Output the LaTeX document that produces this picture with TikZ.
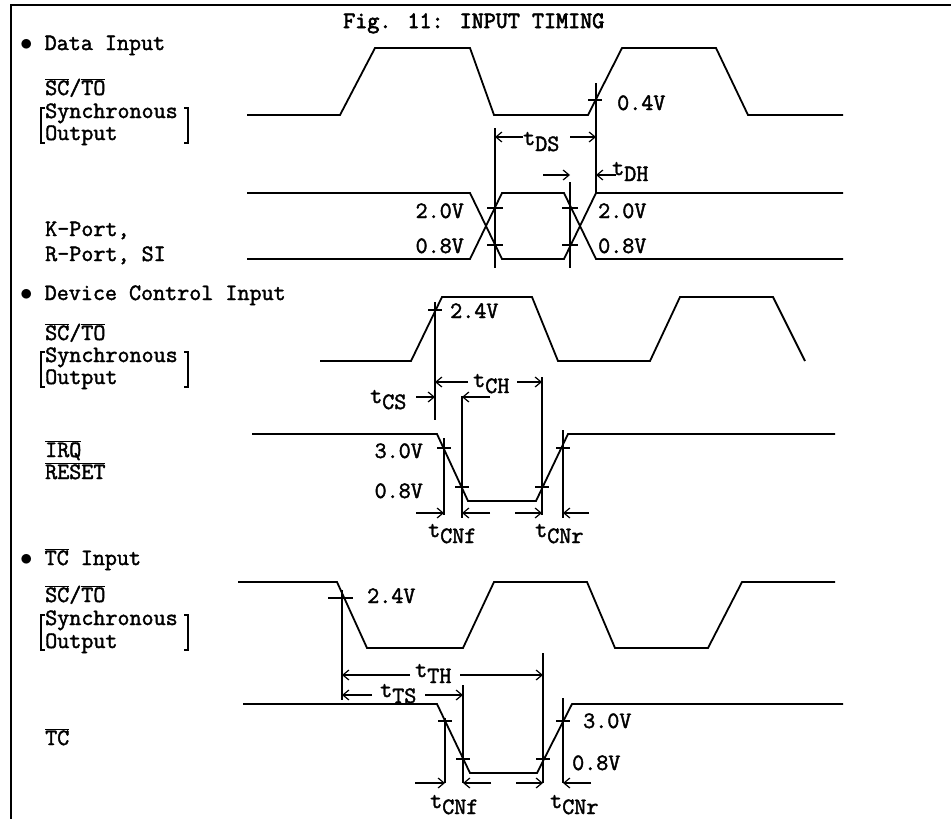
\documentclass[tikz,border=0pt]{standalone}
\usepackage{fontspec}
\newfontfamily\typew{Latin Modern Mono}[FakeBold=1.8]
\newfontfamily\typewb{Latin Modern Mono}[FakeBold=2.8]
\usepackage{tikz}
\usetikzlibrary{arrows.meta,positioning,calc}
\newcommand{\ovl}[1]{$\overline{\hbox{#1}}$}
\newcommand{\tsub}[1]{t\raisebox{-6pt}{#1}}

\begin{document}
\begin{tikzpicture}[x=1pt,y=-1pt,
  >={Straight Barb[length=6pt,width=10pt]},
  every node/.style={inner sep=0pt,font=\typew\fontsize{23.4}{24}\selectfont}]
  \tikzstyle{wave} = [line width=1.8pt,line join=miter]
  \tikzstyle{frame} = [line width=2pt]
  \tikzstyle{guide} = [line width=1.2pt]
  \tikzstyle{vtick} = [line width=1.4pt]
  \tikzstyle{dim} = [->,line width=1.2pt]
  \tikzstyle{lbl} = [anchor=base west,text depth=0pt]
  \tikzstyle{rlbl} = [anchor=base east,text depth=0pt]
  \useasboundingbox (0,0) rectangle (951,819);
  \draw[frame] (951,5) -- (11,5) -- (11,819);
  \node (title) [lbl,font=\typewb\fontsize{23.4}{24}\selectfont] at (343,28) {Fig. 11: INPUT TIMING};

  \node (d_head) [lbl] at (20,50) {$\bullet$ Data Input};
  \node (d_sc) [lbl] at (45,95) {\ovl{SC}/\ovl{TO}};
  \node (d_sync) [lbl] at (45,118) {Synchronous};
  \node (d_out) [lbl] at (45,140) {Output};
  \draw[guide] (45,108) -- (41,108) -- (41,143) -- (45,143);
  \draw[guide] (184,108) -- (188,108) -- (188,143) -- (184,143);
  \node (d_k) [lbl] at (45,236) {K-Port,};
  \node (d_r) [lbl] at (45,261) {R-Port, SI};
  \draw[wave] (247,115) -- (340,115) -- (375,48) -- (470,48) -- (494,115) -- (588,115) -- (622,48) -- (716,48) -- (748,115) -- (843,115);
  \draw[wave] (247,193) -- (470,193) -- (502,259) -- (564,259) -- (596,193) -- (843,193);
  \draw[wave] (247,259) -- (470,259) -- (502,193) -- (564,193) -- (596,259) -- (843,259);
  \draw[guide] (495,128) -- (495,268);
  \draw[guide] (570,182) -- (570,268);
  \draw[guide] (596,83) -- (596,193);
  \draw[vtick] (588,100) -- (602,100);
  \draw[vtick] (487,208) -- (503,208);
  \draw[vtick] (487,245) -- (503,245);
  \draw[vtick] (562,208) -- (578,208);
  \draw[vtick] (562,245) -- (578,245);
  \node (d_v04) [lbl] at (617,110) {0.4V};
  \node (d_v20l) [rlbl] at (464,218) {2.0V};
  \node (d_v08l) [rlbl] at (464,253) {0.8V};
  \node (d_v20r) [lbl] at (598,218) {2.0V};
  \node (d_v08r) [lbl] at (598,253) {0.8V};
  \node (d_tds) [lbl] at (523,145) {\tsub{DS}};
  \draw[dim] (523,137) -- (495,137);
  \draw[dim] (570,137) -- (596,137);
  \node (d_tdh) [lbl] at (612,175) {\tsub{DH}};
  \draw[dim] (616,175) -- (596,175);
  \draw[dim] (543,175) -- (570,175);

  \node (c_head) [lbl] at (20,300) {$\bullet$ Device Control Input};
  \node (c_sc) [lbl] at (45,340) {\ovl{SC}/\ovl{TO}};
  \node (c_sync) [lbl] at (45,362) {Synchronous};
  \node (c_out) [lbl] at (45,384) {Output};
  \draw[guide] (45,352) -- (41,352) -- (41,387) -- (45,387);
  \draw[guide] (184,352) -- (188,352) -- (188,387) -- (184,387);
  \node (c_irq) [lbl] at (45,457) {\ovl{IRQ}};
  \node (c_rst) [lbl] at (45,479) {\ovl{RESET}};
  \draw[wave] (320,361) -- (411,361) -- (442,297) -- (532,297) -- (558,361) -- (650,361) -- (680,297) -- (773,297) -- (805,361);
  \draw[wave] (252,434) -- (437,434) -- (468,501) -- (536,501) -- (568,434) -- (835,434);
  \draw[guide] (435,302) -- (435,420);
  \draw[guide] (444,438) -- (444,515);
  \draw[guide] (462,396) -- (462,518);
  \draw[guide] (542,377) -- (542,515);
  \draw[guide] (563,430) -- (563,518);
  \draw[vtick] (428,310) -- (442,310);
  \draw[vtick] (437,448) -- (451,448);
  \draw[vtick] (455,487) -- (469,487);
  \draw[vtick] (535,487) -- (549,487);
  \draw[vtick] (556,448) -- (570,448);
  \node (c_v24) [lbl] at (450,318) {2.4V};
  \node (c_v30) [rlbl] at (423,458) {3.0V};
  \node (c_v08) [rlbl] at (423,498) {0.8V};
  \node (c_tcs) [lbl] at (370,403) {\tsub{CS}};
  \draw[dim] (416,397) -- (435,397);
  \draw[dim] (490,397) -- (462,397);
  \node (c_tch) [lbl] at (473,387) {\tsub{CH}};
  \draw[dim] (468,382) -- (435,382);
  \draw[dim] (517,382) -- (542,382);
  \draw[dim] (416,513) -- (444,513);
  \draw[dim] (490,513) -- (462,513);
  \draw[dim] (515,513) -- (542,513);
  \draw[dim] (589,513) -- (563,513);
  \node (c_tcnf) [lbl] at (428,537) {\tsub{CNf}};
  \node (c_tcnr) [lbl] at (535,537) {\tsub{CNr}};

  \node (t_head) [lbl] at (20,565) {$\bullet$ \ovl{TC} Input};
  \node (t_sc) [lbl] at (45,602) {\ovl{SC}/\ovl{TO}};
  \node (t_sync) [lbl] at (45,625) {Synchronous};
  \node (t_out) [lbl] at (45,648) {Output};
  \draw[guide] (45,615) -- (41,615) -- (41,650) -- (45,650);
  \draw[guide] (184,615) -- (188,615) -- (188,650) -- (184,650);
  \node (t_tc) [lbl] at (45,745) {\ovl{TC}};
  \draw[wave] (238,582) -- (337,582) -- (367,648) -- (463,648) -- (494,582) -- (587,582) -- (615,648) -- (708,648) -- (742,582) -- (835,582);
  \draw[wave] (243,704) -- (437,704) -- (470,773) -- (537,773) -- (572,704) -- (843,704);
  \draw[guide] (342,590) -- (342,700);
  \draw[guide] (543,653) -- (543,783);
  \draw[guide] (463,685) -- (463,783);
  \draw[guide] (445,718) -- (445,783);
  \draw[guide] (563,698) -- (563,783);
  \draw[vtick] (328,598) -- (353,598);
  \draw[vtick] (438,721) -- (452,721);
  \draw[vtick] (456,759) -- (470,759);
  \draw[vtick] (536,759) -- (550,759);
  \draw[vtick] (556,721) -- (570,721);
  \node (t_v24) [lbl] at (367,603) {2.4V};
  \node (t_v30) [lbl] at (583,728) {3.0V};
  \node (t_v08) [lbl] at (572,770) {0.8V};
  \node (t_tth) [lbl] at (415,677) {\tsub{TH}};
  \draw[dim] (410,675) -- (342,675);
  \draw[dim] (460,675) -- (543,675);
  \node (t_tts) [lbl] at (380,697) {\tsub{TS}};
  \draw[dim] (372,695) -- (342,695);
  \draw[dim] (425,695) -- (463,695);
  \draw[dim] (415,783) -- (445,783);
  \draw[dim] (491,783) -- (463,783);
  \draw[dim] (516,783) -- (543,783);
  \draw[dim] (591,783) -- (563,783);
  \node (t_tcnf) [lbl] at (430,808) {\tsub{CNf}};
  \node (t_tcnr) [lbl] at (550,808) {\tsub{CNr}};
\end{tikzpicture}
\end{document}
